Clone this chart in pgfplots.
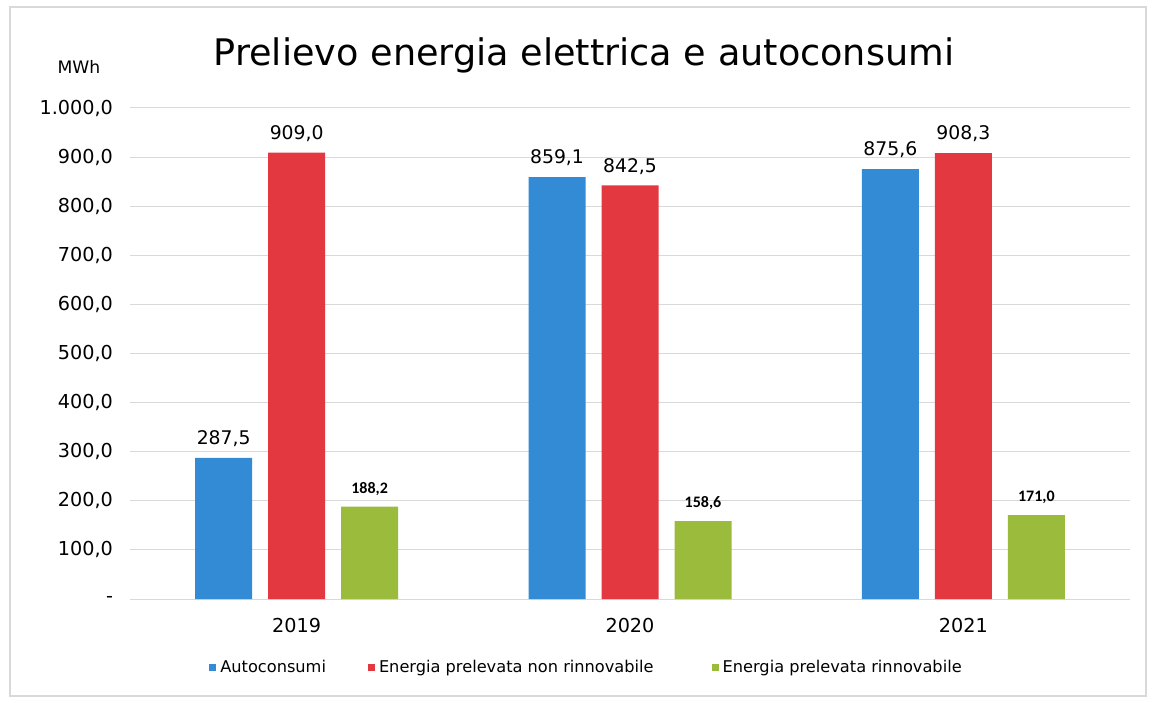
\documentclass[border=0pt]{standalone}
\usepackage{pgfplots}
\pgfplotsset{compat=1.18}
\usepackage{fontspec}
\setmainfont{DejaVu Sans}
\newfontfamily\carlito{Carlito}
\definecolor{cblue}{RGB}{50,139,212}
\definecolor{cred}{RGB}{228,56,64}
\definecolor{cgreen}{RGB}{155,187,60}
\begin{document}
\begin{tikzpicture}[x=0.5pt,y=0.5pt]
\path[use as bounding box] (0,0) rectangle (1156,702);
\draw[gray!30, line width=0.6pt] (10,6) rectangle (1146,695);
\node at (584,647) {\fontsize{18.3}{20}\selectfont Prelievo energia elettrica e autoconsumi};
\node at (79,635) {\fontsize{8.6}{9}\selectfont MWh};
\begin{axis}[
  at={(65pt,51.5pt)}, anchor=south west,
  scale only axis, width=500pt, height=245.5pt,
  xmin=-0.5, xmax=2.5, ymin=0, ymax=1000,
  ybar=8pt, bar width=28.5pt,
  xtick={0,1,2}, xticklabels={2019,2020,2021},
  ytick={0,100,...,1000},
  yticklabels={-,100{,}0,200{,}0,300{,}0,400{,}0,500{,}0,600{,}0,700{,}0,800{,}0,900{,}0,1.000{,}0},
  ymajorgrids, grid style={gray!30, line width=0.5pt},
  axis line style={draw=none}, major tick length=0pt,
  tick label style={font=\fontsize{9.6}{10}\selectfont},
  yticklabel style={xshift=-5pt},
  xticklabel style={yshift=-6pt},
  /pgf/number format/assume math mode=true,
  nodes near coords={\pgfmathprintnumber[fixed,fixed zerofill,precision=1,use comma]{\pgfplotspointmeta}},
  every node near coord/.append style={font=\fontsize{9.4}{10}\selectfont, yshift=2pt},
  legend columns=3,
  legend style={at={(0.4575,-0.1405)}, anchor=center, draw=none, fill=none,
    font=\fontsize{8.1}{9}\selectfont,
    /tikz/column 1/.style={column sep=0pt},
    /tikz/column 2/.style={column sep=19pt},
    /tikz/column 3/.style={column sep=0pt},
    /tikz/column 4/.style={column sep=27pt},
    /tikz/column 5/.style={column sep=0pt}},
  legend image code/.code={\fill[#1] (0pt,-1.75pt) rectangle (3.5pt,1.75pt);},
]
\addplot[fill=cblue, draw=none] coordinates {(0,287.5) (1,859.1) (2,875.6)};
\addplot[fill=cred, draw=none] coordinates {(0,909.0) (1,842.5) (2,908.3)};
\addplot[fill=cgreen, draw=none, every node near coord/.append style={font=\carlito\bfseries\fontsize{8}{9}\selectfont}] coordinates {(0,188.2) (1,158.6) (2,171.0)};
\legend{Autoconsumi, Energia prelevata non rinnovabile, Energia prelevata rinnovabile}
\end{axis}
\end{tikzpicture}
\end{document}
